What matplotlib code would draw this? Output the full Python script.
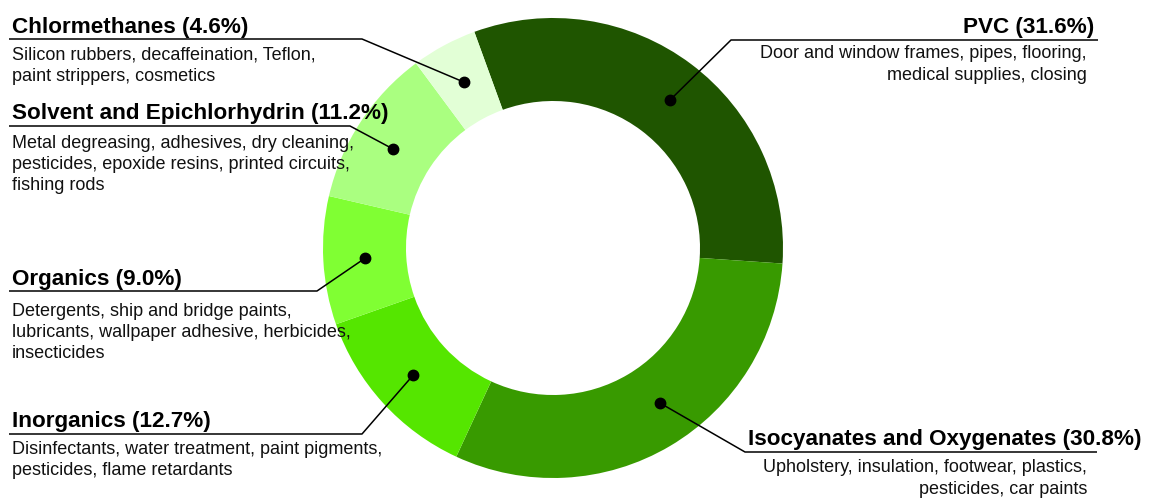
import matplotlib
matplotlib.use('Agg')
from matplotlib import pyplot
import numpy

# share of chlorine use by application, clockwise from the top
categories = ["PVC", "Isocyanates and Oxygenates", "Inorganics", "Organics",
              "Solvent and Epichlorhydrin", "Chlormethanes"]
shares = [31.6, 30.8, 12.7, 9.0, 11.2, 4.6]
descriptions = [
    ["Door and window frames, pipes, flooring,", "medical supplies, closing"],
    ["Upholstery, insulation, footwear, plastics,", "pesticides, car paints"],
    ["Disinfectants, water treatment, paint pigments,", "pesticides, flame retardants"],
    ["Detergents, ship and bridge paints,", "lubricants, wallpaper adhesive, herbicides,", "insecticides"],
    ["Metal degreasing, adhesives, dry cleaning,", "pesticides, epoxide resins, printed circuits,", "fishing rods"],
    ["Silicon rubbers, decaffeination, Teflon,", "paint strippers, cosmetics"],
]
colors = ["#1f5500", "#389a00", "#55e600", "#80ff33", "#aaff80", "#e2ffd6"]

W, H = 1149, 500
# callout layout in pixels from the top-left: elbow point, line end, side,
# title anchor x, description anchor x, first description line y,
# nudge of the dot away from the wedge middle (degrees)
callouts = [
    ((731, 40), 1098, "right", 1094, 1087, 54, -1.4),
    ((745, 452), 1097, "right", 1142, 1087, 468, 4.0),
    ((362, 434), 9, "left", 12, 12, 449, 0.0),
    ((317, 291), 9, "left", 12, 12, 311, 0.0),
    ((350, 126), 9, "left", 12, 12, 143, 1.5),
    ((362, 39), 9, "left", 12, 12, 55, 0.0),
]

def Y(py):
    return H - py

pyplot.rcParams['font.family'] = ['Liberation Sans', 'DejaVu Sans']

fig = pyplot.figure(figsize=(W / 100, H / 100), dpi=100)
ax = fig.add_axes([0, 0, 1, 1])

center = (553, Y(248))
outer = 230
ring = 83
wedges, _ = ax.pie(shares, colors=colors, startangle=110, counterclock=False,
                   center=center, radius=outer,
                   wedgeprops=dict(width=ring, linewidth=0))
ax.set_xlim(0, W)
ax.set_ylim(0, H)
ax.set_aspect('equal')
ax.axis('off')

r_mid = outer - ring / 2
for w, name, share, desc, co in zip(wedges, categories, shares, descriptions, callouts):
    (ex, ey), line_end, side, tx, dx, dy, nudge = co
    theta = numpy.deg2rad((w.theta1 + w.theta2) / 2 + nudge)
    px = center[0] + r_mid * numpy.cos(theta)
    py = center[1] + r_mid * numpy.sin(theta)
    ax.plot([px, ex, line_end], [py, Y(ey), Y(ey)], color="black", lw=1.1,
            solid_capstyle="butt")
    ax.plot(px, py, "o", color="black", ms=7.5)
    ha = "left" if side == "left" else "right"
    ax.text(tx, Y(ey - 6.5), "{} ({:.1f}%)".format(name, share), ha=ha,
            va="baseline", fontsize=16.2, fontweight="bold", color="black")
    for i, line in enumerate(desc):
        ax.text(dx, Y(dy + i * 21.5), line, ha=ha, va="center",
                fontsize=13, color="#111111")

fig.savefig("out.png", dpi=100, facecolor="white")
